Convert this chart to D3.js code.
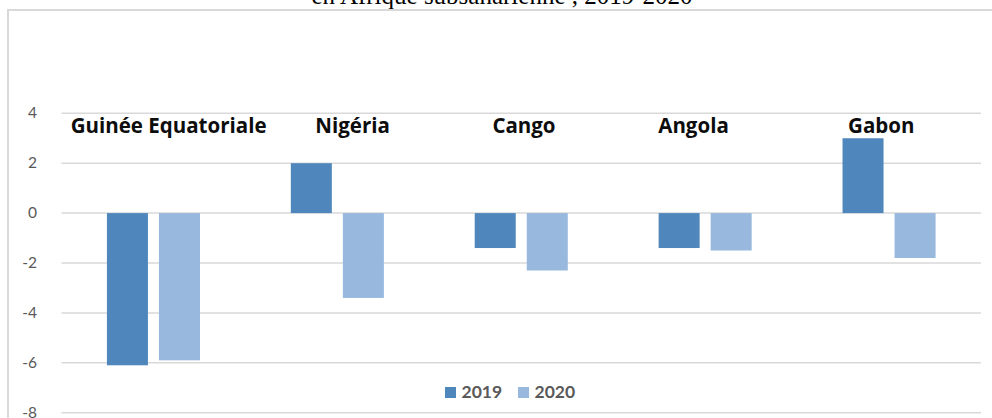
<!DOCTYPE html>
<html>
<head>
<meta charset="utf-8">
<script src="https://cdn.jsdelivr.net/npm/d3@7"></script>
<style>
  html, body { margin: 0; padding: 0; background: #ffffff; }
  svg { display: block; }
</style>
</head>
<body>
<svg id="chart" width="992" height="418"></svg>
<script>
// ---- data ----
const titleText = "en Afrique subsaharienne , 2019-2020";
const categories = ["Guinée Equatoriale", "Nigéria", "Cango", "Angola", "Gabon"];
const seriesNames = ["2019", "2020"];
const values2019 = [-6.1, 2.0, -1.4, -1.4, 3.0];
const values2020 = [-5.9, -3.4, -2.3, -1.5, -1.8];
const yTicks = [4, 2, 0, -2, -4, -6, -8];

// ---- layout (not data) ----
const labelOffsetFrac = [0.05, 0.38, 0.343, 0.245, 0.277];
const colors = ["#4f87bc", "#98b8de"];

const svg = d3.select("#chart");
const plot = { left: 61.5, right: 981, top: 113.3, bottom: 412.7 };

// frame
svg.append("rect")
  .attr("x", 8).attr("y", 10)
  .attr("width", 1100).attr("height", 600)
  .attr("fill", "none")
  .attr("stroke", "#d9d9d9").attr("stroke-width", 2);

// title (partially cut off at top, as in the reference)
svg.append("text")
  .attr("x", 502).attr("y", 4)
  .attr("text-anchor", "middle")
  .attr("font-family", "'Liberation Serif', 'Times New Roman', serif")
  .attr("font-size", 25)
  .attr("fill", "#000")
  .text(titleText);

const x = d3.scaleBand().domain(categories).range([plot.left, plot.right]).padding(0);
const y = d3.scaleLinear().domain([-8, 4]).range([plot.bottom, plot.top]);

const barW = x.bandwidth() * 0.223;
const gap = x.bandwidth() * 0.06;
const x1 = d3.scaleOrdinal().domain(seriesNames)
  .range([x.bandwidth() / 2 - gap / 2 - barW, x.bandwidth() / 2 + gap / 2]);

// gridlines
svg.append("g")
  .selectAll("line")
  .data(yTicks)
  .join("line")
  .attr("x1", plot.left).attr("x2", plot.right)
  .attr("y1", d => y(d)).attr("y2", d => y(d))
  .attr("stroke", "#d9d9d9").attr("stroke-width", 1.5);

// y axis labels (hyphen-minus like the reference)
const yAxis = d3.axisLeft(y).tickValues(yTicks).tickSize(0).tickPadding(0)
  .tickFormat(d => String(d));
const gy = svg.append("g").attr("transform", `translate(${37},0)`).call(yAxis);
gy.select(".domain").remove();
gy.selectAll("text")
  .attr("font-family", "Lato, 'Open Sans', sans-serif")
  .attr("font-size", 15.5)
  .attr("fill", "#595959")
  .attr("dy", "0.3em");

// bars
const rows = categories.map((c, i) => ({ cat: c, vals: [values2019[i], values2020[i]] }));
const groups = svg.append("g").selectAll("g")
  .data(rows).join("g")
  .attr("transform", d => `translate(${x(d.cat)},0)`);

groups.selectAll("rect")
  .data(d => d.vals.map((v, j) => ({ key: seriesNames[j], v, j })))
  .join("rect")
  .attr("x", d => x1(d.key))
  .attr("width", barW)
  .attr("y", d => y(Math.max(0, d.v)))
  .attr("height", d => Math.abs(y(d.v) - y(0)))
  .attr("fill", d => colors[d.j]);

// category labels
svg.append("g").selectAll("text")
  .data(categories)
  .join("text")
  .attr("x", (d, i) => x(d) + labelOffsetFrac[i] * x.bandwidth())
  .attr("y", 133)
  .attr("font-family", "'Open Sans', Lato, sans-serif")
  .attr("font-weight", "bold")
  .attr("font-size", 20.5)
  .attr("fill", "#0d0d0d")
  .text(d => d);

// legend
const legend = svg.append("g").attr("transform", "translate(445,387)");
const legendX = [0, 73];
seriesNames.forEach((s, i) => {
  const g = legend.append("g").attr("transform", `translate(${legendX[i]},0)`);
  g.append("rect").attr("width", 11).attr("height", 11).attr("fill", colors[i]);
  g.append("text")
    .attr("x", 16.5).attr("y", 11)
    .attr("font-family", "Lato, 'Open Sans', sans-serif")
    .attr("font-weight", "bold")
    .attr("font-size", 17.5)
    .attr("fill", "#595959")
    .text(s);
});
</script>
</body>
</html>
